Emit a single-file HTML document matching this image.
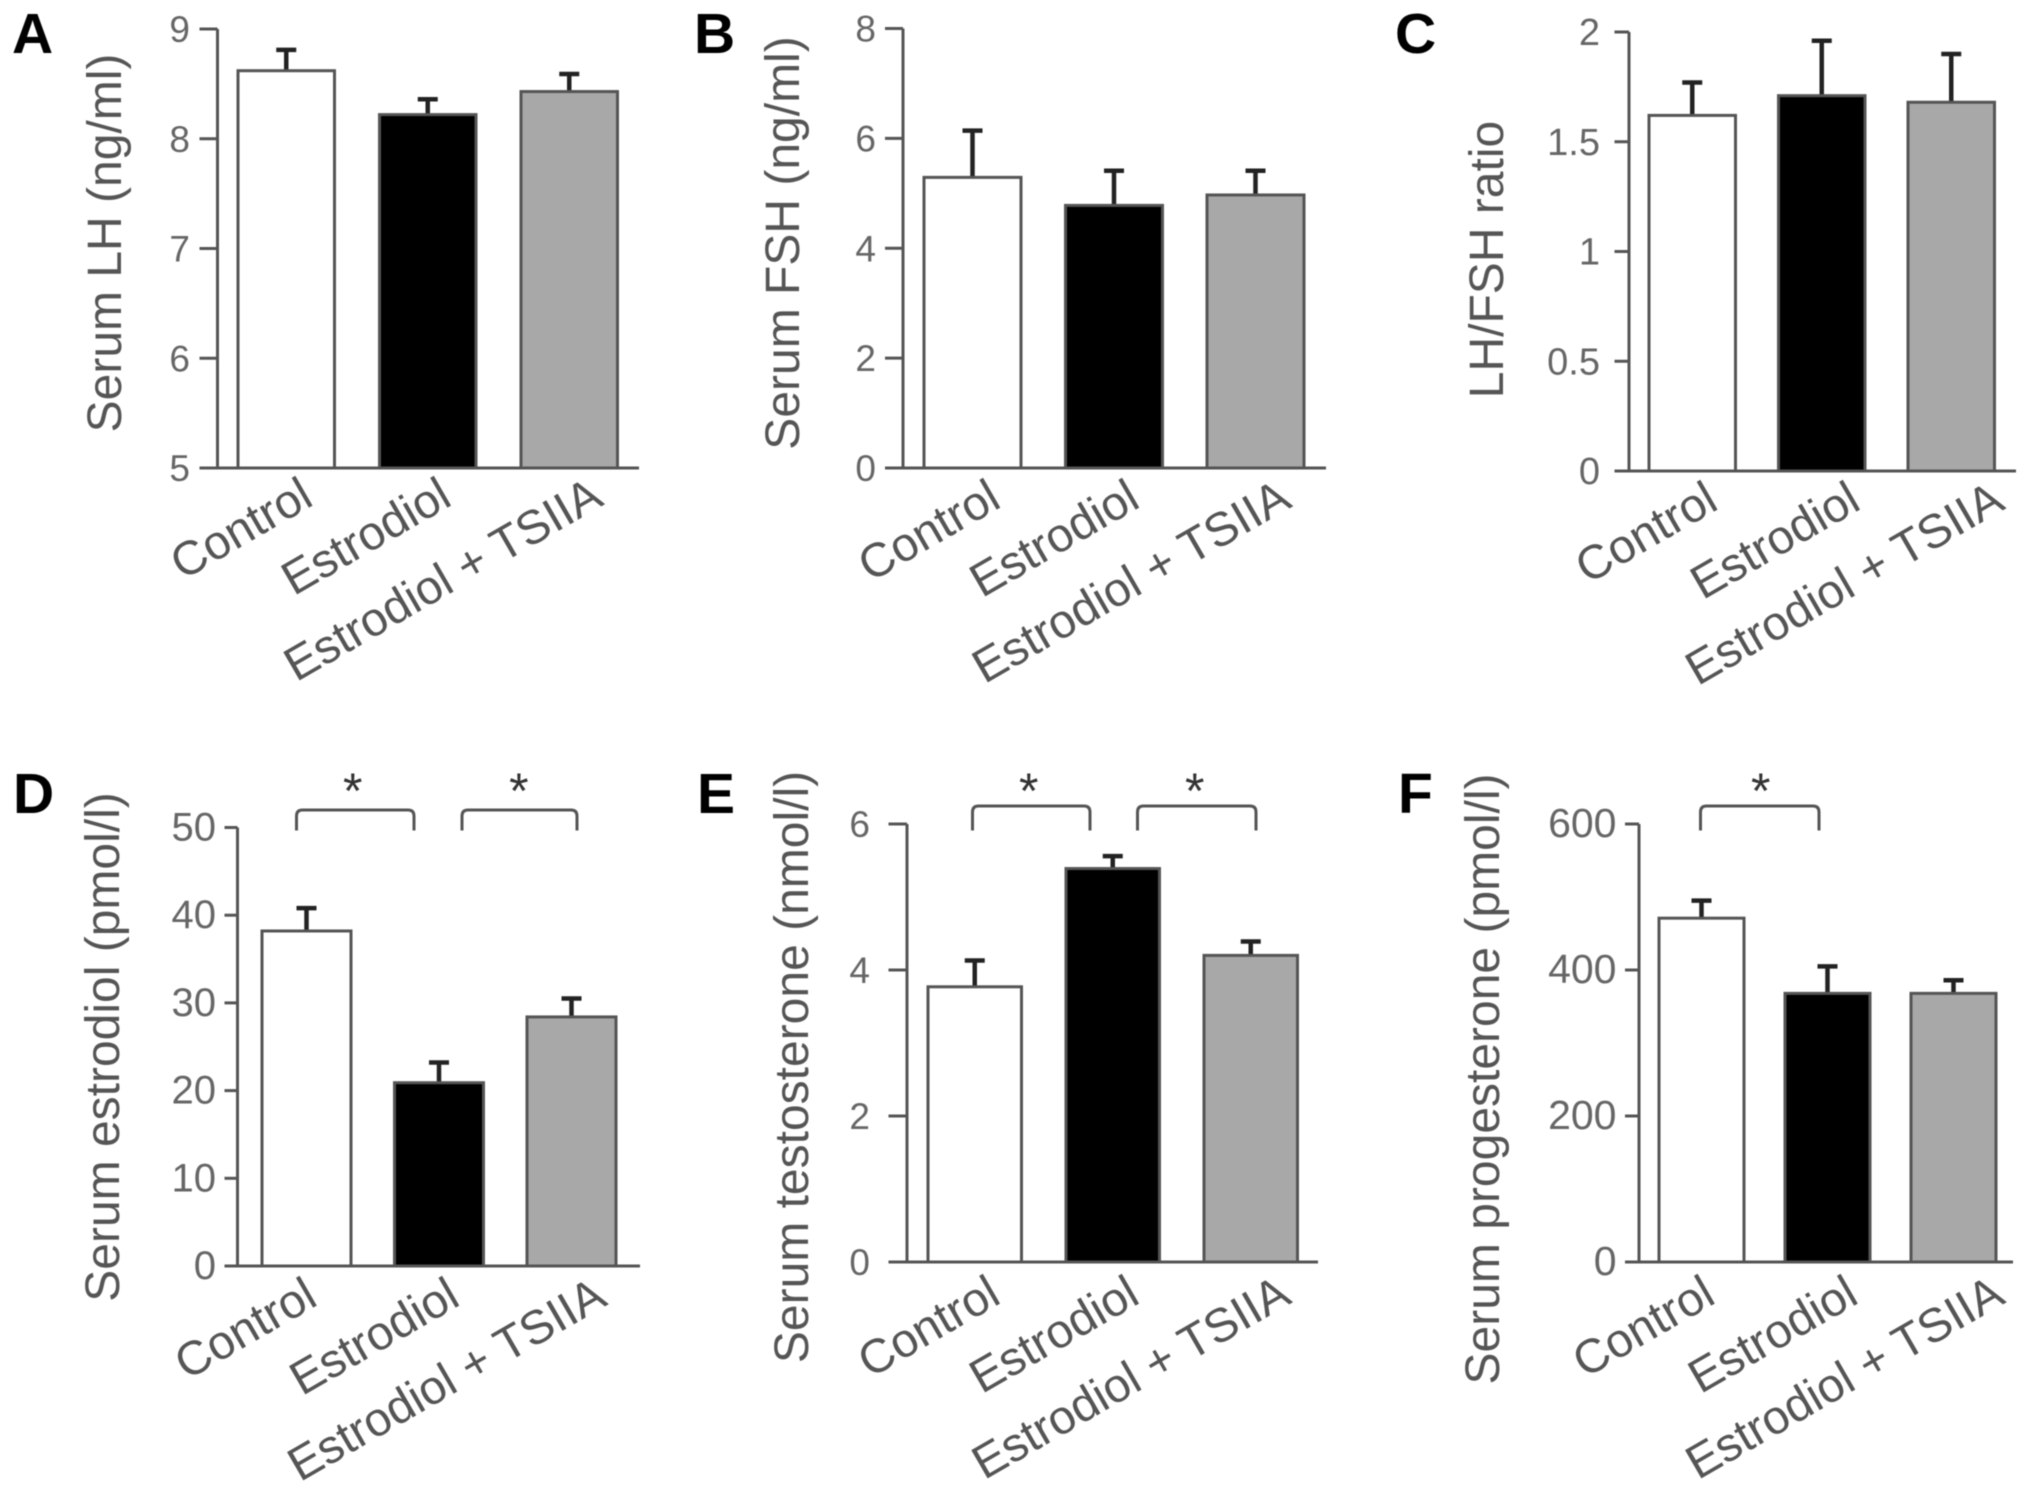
<!DOCTYPE html>
<html lang="en">
<head>
<meta charset="utf-8">
<title>Serum hormone levels</title>
<style>
html,body{margin:0;padding:0;background:#fff;width:2031px;height:1495px;overflow:hidden}
svg{display:block;font-family:"Liberation Sans",sans-serif;filter:blur(0.6px)}
</style>
</head>
<body>
<svg id="figure" xmlns="http://www.w3.org/2000/svg" width="2031" height="1495" viewBox="0 0 2031 1495"></svg>
<script>
// Data
const categories = ["Control", "Estrodiol", "Estrodiol + TSIIA"];

const lhValues = [8.62, 8.22, 8.43];
const lhErrors = [0.19, 0.14, 0.16];
const lhTicks = [5, 6, 7, 8, 9];

const fshValues = [5.29, 4.78, 4.97];
const fshErrors = [0.85, 0.63, 0.44];
const fshTicks = [0, 2, 4, 6, 8];

const ratioValues = [1.62, 1.71, 1.68];
const ratioErrors = [0.15, 0.25, 0.22];
const ratioTicks = [0, 0.5, 1, 1.5, 2];

const estradiolValues = [38.2, 20.9, 28.4];
const estradiolErrors = [2.6, 2.3, 2.1];
const estradiolTicks = [0, 10, 20, 30, 40, 50];

const testosteroneValues = [3.77, 5.39, 4.2];
const testosteroneErrors = [0.36, 0.17, 0.19];
const testosteroneTicks = [0, 2, 4, 6];

const progesteroneValues = [471, 368, 368];
const progesteroneErrors = [24, 37, 18];
const progesteroneTicks = [0, 200, 400, 600];

const barFills = ["#ffffff", "#000000", "#a8a8a8"];

// Layout (pixels only, no data)
const panels = [
  {key:"a", letter:"A", letterX:12, letterY:53, title:"Serum LH (ng/ml)", titleX:121, titleY:243,
   values:lhValues, errors:lhErrors, ticks:lhTicks, axisX:217.5, axisEnd:639, tickStart:199.5, top:29, bottom:468,
   tickRight:190, tickFont:37, barStart:238, barStep:141.5, barWidth:96.5, labelNudge:[29,26,36], labelY:504, brackets:[]},
  {key:"b", letter:"B", letterX:694, letterY:53, title:"Serum FSH (ng/ml)", titleX:799, titleY:243,
   values:fshValues, errors:fshErrors, ticks:fshTicks, axisX:903, axisEnd:1326, tickStart:885, top:28.5, bottom:468,
   tickRight:876, tickFont:37, barStart:924, barStep:141.5, barWidth:97, labelNudge:[30.5,28,38], labelY:506, brackets:[]},
  {key:"c", letter:"C", letterX:1395, letterY:53, title:"LH/FSH ratio", titleX:1503, titleY:259.5,
   values:ratioValues, errors:ratioErrors, ticks:ratioTicks, axisX:1629, axisEnd:2016, tickStart:1614.5, top:32, bottom:471,
   tickRight:1600, tickFont:38, barStart:1649, barStep:129.5, barWidth:86.5, labelNudge:[28,41,55.5], labelY:508, brackets:[]},
  {key:"d", letter:"D", letterX:13, letterY:813, title:"Serum estrodiol (pmol/l)", titleX:119, titleY:1047,
   values:estradiolValues, errors:estradiolErrors, ticks:estradiolTicks, axisX:237.5, axisEnd:640, tickStart:224.5, top:827.5, bottom:1266,
   tickRight:216, tickFont:40, barStart:262, barStep:132.5, barWidth:89, labelNudge:[13,23,37.5], labelY:1304,
   brackets:[{from:296.5,to:414,top:810,end:830.5,star:352.7},{from:462,to:577,top:810,end:830.5,star:518.8}]},
  {key:"e", letter:"E", letterX:697, letterY:813, title:"Serum testosterone (nmol/l)", titleX:808, titleY:1067,
   values:testosteroneValues, errors:testosteroneErrors, ticks:testosteroneTicks, axisX:907, axisEnd:1318, tickStart:888.5, top:824, bottom:1262,
   tickRight:870, tickFont:37, barStart:928, barStep:138, barWidth:93.5, labelNudge:[28,29,42.5], labelY:1302,
   brackets:[{from:972.5,to:1090,top:806,end:830.5,star:1028.7},{from:1137.5,to:1256,top:806,end:830.5,star:1194.7}]},
  {key:"f", letter:"F", letterX:1398, letterY:813, title:"Serum progesterone (pmol/l)", titleX:1499, titleY:1079,
   values:progesteroneValues, errors:progesteroneErrors, ticks:progesteroneTicks, axisX:1639, axisEnd:2013, tickStart:1625, top:824, bottom:1262,
   tickRight:1616.5, tickFont:41, barStart:1659, barStep:126, barWidth:85, labelNudge:[16,33,53.5], labelY:1302,
   brackets:[{from:1700.5,to:1819,top:806,end:830.5,star:1760.7}]}
];

const svg = document.getElementById("figure");
const NS = "http://www.w3.org/2000/svg";
const AXIS = "#555555";
const TEXT = "#555555";

function mk(parent, tag, attrs, text) {
  const node = document.createElementNS(NS, tag);
  for (const k in attrs) node.setAttribute(k, attrs[k]);
  if (text !== undefined) node.textContent = text;
  parent.appendChild(node);
  return node;
}

panels.forEach(function (p) {
  const yMin = p.ticks[0];
  const yMax = p.ticks[p.ticks.length - 1];
  const yScale = function (v) { return p.bottom - (v - yMin) / (yMax - yMin) * (p.bottom - p.top); };
  const barLeft = function (i) { return p.barStart + i * p.barStep; };
  const barCenter = function (i) { return barLeft(i) + p.barWidth / 2; };

  const g = mk(svg, "g", {});
  
  

  const letter = mk(g, "text", {x:p.letterX, y:p.letterY, "font-size":57, "font-weight":"bold", fill:"#000"}, p.letter);
  
  

  const title = mk(g, "text", {transform:"translate(" + p.titleX + "," + p.titleY + ") rotate(-90)", "text-anchor":"middle", "font-size":48, fill:TEXT}, p.title);
  
  

  p.values.forEach(function (v, i) {
    const cx = barCenter(i);
    const topY = yScale(v);
    const errY = yScale(v + p.errors[i]);
    const stem = mk(g, "line", {x1:cx, x2:cx, y1:topY, y2:errY, stroke:"#222", "stroke-width":4.5});
    
    
    const cap = mk(g, "line", {x1:cx - 10, x2:cx + 10, y1:errY, y2:errY, stroke:"#222", "stroke-width":4.5});
    
    
    const bar = mk(g, "rect", {x:barLeft(i), y:topY, width:p.barWidth, height:yScale(yMin) - topY, fill:barFills[i], stroke:AXIS, "stroke-width":3});
    
    

    const lx = cx + p.labelNudge[i];
    const label = mk(g, "text", {transform:"translate(" + lx + "," + p.labelY + ") rotate(-30)", "text-anchor":"end", "font-size":47.5, fill:TEXT}, categories[i]);
    
    
  });

  const yAxis = mk(g, "line", {x1:p.axisX, x2:p.axisX, y1:p.top, y2:p.bottom, stroke:AXIS, "stroke-width":3});
  
  
  const xAxis = mk(g, "line", {x1:p.tickStart, x2:p.axisEnd, y1:p.bottom, y2:p.bottom, stroke:AXIS, "stroke-width":3});
  
  

  p.ticks.forEach(function (t) {
    const y = yScale(t);
    const tick = mk(g, "line", {x1:p.tickStart, x2:p.axisX, y1:y, y2:y, stroke:AXIS, "stroke-width":3});
    
    
    const tl = mk(g, "text", {x:p.tickRight, y:y + 13, "text-anchor":"end", "font-size":p.tickFont, fill:"#666"}, String(t));
    
    
  });

  p.brackets.forEach(function (b, i) {
    const d = "M" + b.from + " " + b.end + "V" + (b.top + 6) + "Q" + b.from + " " + b.top + " " + (b.from + 6) + " " + b.top +
              "H" + (b.to - 6) + "Q" + b.to + " " + b.top + " " + b.to + " " + (b.top + 6) + "V" + b.end;
    const br = mk(g, "path", {d:d, fill:"none", stroke:"#555", "stroke-width":3});
    
    
    const star = mk(g, "text", {x:b.star, y:808, "text-anchor":"middle", "font-size":50, fill:"#333"}, "*");
    
    
  });
});
</script>
</body>
</html>
